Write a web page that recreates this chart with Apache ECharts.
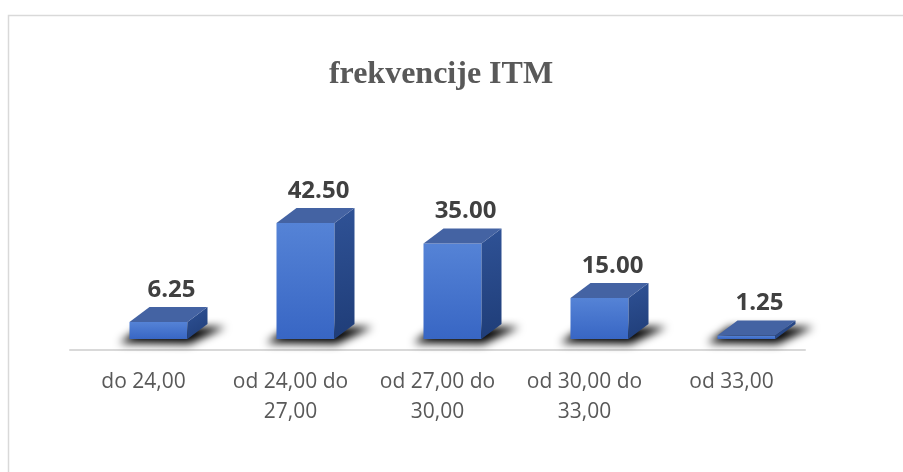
<!DOCTYPE html>
<html>
<head>
<meta charset="utf-8">
<script src="https://cdn.jsdelivr.net/npm/echarts@6/dist/echarts.min.js"></script>
<style>
html,body{margin:0;padding:0;background:#fff;}
#chart{width:903px;height:472px;}
</style>
</head>
<body>
<div id="chart"></div>
<script>
const titleText = 'frekvencije ITM';
const categories = ['do 24,00', 'od 24,00 do 27,00', 'od 27,00 do 30,00', 'od 30,00 do 33,00', 'od 33,00'];
const values = [6.25, 42.50, 35.00, 15.00, 1.25];

const chart = echarts.init(document.getElementById('chart'), null, {renderer: 'canvas'});

const W = 58, DX = 20, DY = 15, SHIFT = 15, LIFT = 11, FAR = 3000;

function renderItem(params, api) {
  const i = api.value(0), v = api.value(1);
  const base = api.coord([i, 0]);
  const top = api.coord([i, v]);
  const cx = base[0] + SHIFT;
  const yb = base[1] - LIFT;
  const yt = top[1] - LIFT;
  const x0 = cx - W / 2, x1 = cx + W / 2;
  const shadowPts = [[x0 - 10 - FAR, yb + 4], [x1 + 2 - FAR, yb + 5], [x1 + DX + 18 - FAR, yb - DY + 3], [x0 + DX - 8 - FAR, yb - DY + 3]];
  return {
    type: 'group',
    children: [
      {type: 'polygon', shape: {points: shadowPts},
       style: {fill: '#000', shadowBlur: 9, shadowColor: 'rgba(0,0,0,1)', shadowOffsetX: FAR, shadowOffsetY: 0}},
      {type: 'polygon', shape: {points: [[x0, yb], [x1, yb], [x1, yt], [x0, yt]]},
       style: {fill: new echarts.graphic.LinearGradient(0, 0, 0, 1, [
         {offset: 0, color: '#5583d6'}, {offset: 1, color: '#3866c4'}])}},
      {type: 'polygon', shape: {points: [[x1, yb], [x1 + DX, yb - DY], [x1 + DX, yt - DY], [x1, yt]]},
       style: {fill: new echarts.graphic.LinearGradient(0, 0, 1, 1, [
         {offset: 0, color: '#2f5296'}, {offset: 1, color: '#1f3d78'}])}},
      {type: 'polygon', shape: {points: [[x0, yt], [x1, yt], [x1 + DX, yt - DY], [x0 + DX, yt - DY]]},
       style: {fill: '#4463a3'}},
      {type: 'text', x: cx + 13, y: yt - DY - 17,
       style: {text: v.toFixed(2), fill: '#404040', font: 'bold 24px "Open Sans"', align: 'center', verticalAlign: 'middle'}}
    ]
  };
}

chart.setOption({
  backgroundColor: '#ffffff',
  animation: false,
  title: {
    text: titleText, left: 436, top: 54, textAlign: 'center',
    textStyle: {fontFamily: '"Liberation Serif"', fontWeight: 'bold', fontSize: 32, color: '#595959'}
  },
  graphic: [{
    type: 'rect', shape: {x: 8.5, y: 15.5, width: 1200, height: 1200},
    style: {fill: 'none', stroke: '#d9d9d9', lineWidth: 1.5}, silent: true, z: -10
  }],
  grid: {left: 70, right: 98, top: 213.5, bottom: 122},
  xAxis: {
    type: 'category', data: categories,
    axisLine: {show: true, lineStyle: {color: '#d9d9d9', width: 2}},
    axisTick: {show: false},
    axisLabel: {
      interval: 0, margin: 17, color: '#595959', fontFamily: '"Open Sans"', fontSize: 21,
      lineHeight: 30,
      formatter: (s) => s.replace(' do ', ' do\n')
    }
  },
  yAxis: {type: 'value', min: 0, max: 50, show: false, splitLine: {show: false}},
  series: [{
    type: 'custom', renderItem: renderItem, clip: false,
    data: values.map((v, i) => [i, v])
  }]
});
</script>
</body>
</html>
